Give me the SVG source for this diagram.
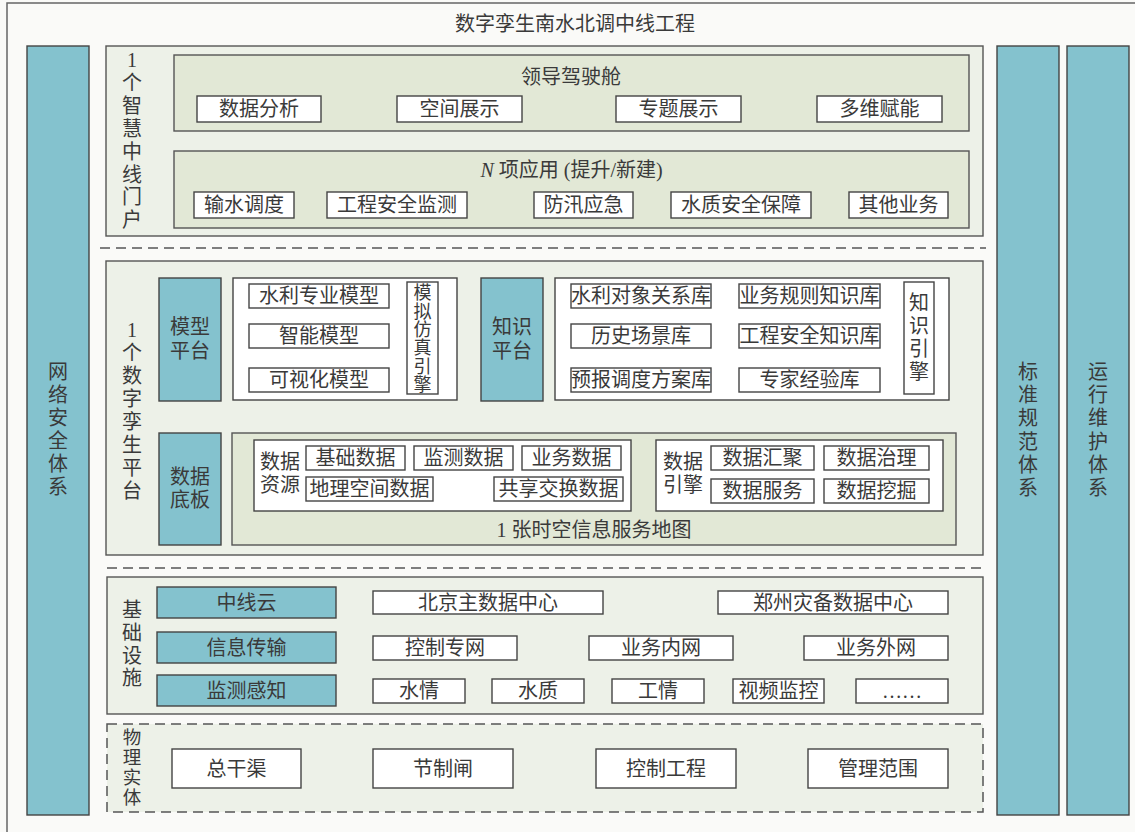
<svg xmlns="http://www.w3.org/2000/svg" width="1135" height="832" viewBox="0 0 1135 832">
<style>
text{font-family:"Liberation Serif","Noto Sans CJK SC",serif;font-size:20px;fill:#3a3a3a;text-anchor:middle;dominant-baseline:central}
.sec{fill:#edf1e8;stroke:#555;stroke-width:1.4}
.sec2{fill:#e2e8d6;stroke:#555;stroke-width:1.4}
.wb{fill:#fff;stroke:#444;stroke-width:1.4}
.bl{fill:#84c2ce;stroke:#444;stroke-width:1.4}
.dash{stroke:#555;stroke-width:1.5;stroke-dasharray:10 6;fill:none}
.sm{font-size:18px}
.ph{font-size:18.5px}
</style>
<rect width="1135" height="832" fill="#fafaf8"/>
<path d="M7,832 V3 H1135" fill="none" stroke="#666" stroke-width="1.5"/>
<text x="575" y="24">数字孪生南水北调中线工程</text>

<g id="side-network"><rect class="bl" x="27" y="46" width="62" height="769"/>
<text x="58"><tspan x="58" y="372">网</tspan><tspan x="58" y="395">络</tspan><tspan x="58" y="418">安</tspan><tspan x="58" y="441">全</tspan><tspan x="58" y="464">体</tspan><tspan x="58" y="487">系</tspan></text></g>
<g id="side-standard"><rect class="bl" x="997" y="46" width="62" height="769"/>
<text><tspan x="1028" y="372">标</tspan><tspan x="1028" y="395">准</tspan><tspan x="1028" y="418">规</tspan><tspan x="1028" y="442">范</tspan><tspan x="1028" y="465">体</tspan><tspan x="1028" y="488">系</tspan></text></g>
<g id="side-ops"><rect class="bl" x="1067" y="46" width="62" height="769"/>
<text><tspan x="1098" y="372">运</tspan><tspan x="1098" y="395">行</tspan><tspan x="1098" y="418">维</tspan><tspan x="1098" y="442">护</tspan><tspan x="1098" y="465">体</tspan><tspan x="1098" y="488">系</tspan></text></g>

<g id="connectors">
<line class="dash" x1="173" y1="142" x2="965" y2="142"/>
<line class="dash" x1="100" y1="248" x2="986" y2="248"/>
<line class="dash" x1="107" y1="568" x2="984" y2="568"/>
</g>

<g id="portal">
<rect class="sec" x="106" y="46" width="877" height="190"/>
<text><tspan x="132" y="60">1</tspan><tspan x="132" y="83">个</tspan><tspan x="132" y="106">智</tspan><tspan x="132" y="129">慧</tspan><tspan x="132" y="152">中</tspan><tspan x="132" y="175">线</tspan><tspan x="132" y="197">门</tspan><tspan x="132" y="220">户</tspan></text>
</g>
<g id="cockpit">
<rect class="sec2" x="174" y="55" width="795" height="76"/>
<text x="571" y="77">领导驾驶舱</text>
<rect class="wb" x="197" y="96" width="124" height="26"/><text x="259" y="109">数据分析</text>
<rect class="wb" x="397" y="96" width="125" height="26"/><text x="459.5" y="109">空间展示</text>
<rect class="wb" x="616" y="96" width="125" height="26"/><text x="678.5" y="109">专题展示</text>
<rect class="wb" x="817" y="96" width="125" height="26"/><text x="879.5" y="109">多维赋能</text>
</g>
<g id="apps">
<rect class="sec2" x="174" y="151" width="795" height="77"/>
<text x="571.5" y="170"><tspan font-style="italic">N</tspan> 项应用 (提升/新建)</text>
<rect class="wb" x="194" y="192" width="100" height="26"/><text x="244" y="205">输水调度</text>
<rect class="wb" x="327" y="192" width="140" height="26"/><text x="397" y="205">工程安全监测</text>
<rect class="wb" x="534" y="192" width="99" height="26"/><text x="583.5" y="205">防汛应急</text>
<rect class="wb" x="671" y="192" width="140" height="26"/><text x="741" y="205">水质安全保障</text>
<rect class="wb" x="849" y="192" width="99" height="26"/><text x="898.5" y="205">其他业务</text>
</g>

<g id="twin">
<rect class="sec" x="106" y="261" width="877" height="294"/>
<text><tspan x="132" y="330">1</tspan><tspan x="132" y="353">个</tspan><tspan x="132" y="376">数</tspan><tspan x="132" y="399">字</tspan><tspan x="132" y="422">孪</tspan><tspan x="132" y="445">生</tspan><tspan x="132" y="468">平</tspan><tspan x="132" y="491">台</tspan></text>
</g>
<g id="model-platform">
<rect class="bl" x="159" y="278" width="62" height="123"/>
<text><tspan x="190" y="327">模型</tspan><tspan x="190" y="351">平台</tspan></text>
<rect class="wb" x="233" y="278" width="224" height="122"/>
<rect class="wb" x="249" y="284" width="140" height="24"/><text x="319" y="296">水利专业模型</text>
<rect class="wb" x="249" y="324" width="140" height="24"/><text x="319" y="336">智能模型</text>
<rect class="wb" x="249" y="368" width="140" height="24"/><text x="319" y="380">可视化模型</text>
<rect class="wb" x="407" y="282" width="31" height="112"/>
<text class="sm"><tspan x="422.5" y="293">模</tspan><tspan x="422.5" y="311.5">拟</tspan><tspan x="422.5" y="330">仿</tspan><tspan x="422.5" y="348">真</tspan><tspan x="422.5" y="366.5">引</tspan><tspan x="422.5" y="385">擎</tspan></text>
</g>
<g id="knowledge-platform">
<rect class="bl" x="481" y="278" width="62" height="123"/>
<text><tspan x="512" y="327">知识</tspan><tspan x="512" y="351">平台</tspan></text>
<rect class="wb" x="555" y="278" width="394" height="122"/>
<rect class="wb" x="571" y="284" width="140" height="24"/><text x="641" y="296">水利对象关系库</text>
<rect class="wb" x="739" y="284" width="141" height="24"/><text x="809.5" y="296">业务规则知识库</text>
<rect class="wb" x="571" y="324" width="140" height="24"/><text x="641" y="336">历史场景库</text>
<rect class="wb" x="739" y="324" width="141" height="24"/><text x="809.5" y="336">工程安全知识库</text>
<rect class="wb" x="571" y="368" width="140" height="24"/><text x="641" y="380">预报调度方案库</text>
<rect class="wb" x="739" y="368" width="141" height="24"/><text x="809.5" y="380">专家经验库</text>
<rect class="wb" x="904" y="282" width="30" height="112"/>
<text><tspan x="919" y="303">知</tspan><tspan x="919" y="326">识</tspan><tspan x="919" y="349">引</tspan><tspan x="919" y="372">擎</tspan></text>
</g>
<g id="data-board">
<rect class="bl" x="159" y="433" width="62" height="112"/>
<text><tspan x="190" y="477">数据</tspan><tspan x="190" y="500">底板</tspan></text>
<rect class="sec2" x="232" y="433" width="724" height="112"/>
<text x="594" y="530">1 张时空信息服务地图</text>
</g>
<g id="data-resources">
<rect class="wb" x="254" y="440" width="377" height="71"/>
<text><tspan x="280" y="462">数据</tspan><tspan x="280" y="485">资源</tspan></text>
<rect class="wb" x="306" y="446" width="99" height="24"/><text x="355.5" y="458">基础数据</text>
<rect class="wb" x="414" y="446" width="99" height="24"/><text x="463.5" y="458">监测数据</text>
<rect class="wb" x="522" y="446" width="99" height="24"/><text x="571.5" y="458">业务数据</text>
<rect class="wb" x="306" y="477" width="127" height="24"/><text x="369.5" y="489">地理空间数据</text>
<rect class="wb" x="494" y="477" width="129" height="24"/><text x="558.5" y="489">共享交换数据</text>
</g>
<g id="data-engine">
<rect class="wb" x="656" y="440" width="287" height="71"/>
<text><tspan x="683" y="462">数据</tspan><tspan x="683" y="485">引擎</tspan></text>
<rect class="wb" x="711" y="446" width="103" height="24"/><text x="762.5" y="458">数据汇聚</text>
<rect class="wb" x="824" y="446" width="105" height="24"/><text x="876.5" y="458">数据治理</text>
<rect class="wb" x="711" y="479" width="103" height="24"/><text x="762.5" y="491">数据服务</text>
<rect class="wb" x="824" y="479" width="105" height="24"/><text x="876.5" y="491">数据挖掘</text>
</g>

<g id="infrastructure">
<rect class="sec" x="107" y="577" width="876" height="137"/>
<text><tspan x="132" y="610">基</tspan><tspan x="132" y="633">础</tspan><tspan x="132" y="656">设</tspan><tspan x="132" y="678">施</tspan></text>
<rect class="bl" x="157" y="587" width="179" height="31"/><text x="246.5" y="603">中线云</text>
<rect class="bl" x="157" y="632" width="179" height="31"/><text x="246.5" y="648">信息传输</text>
<rect class="bl" x="157" y="675" width="179" height="31"/><text x="246.5" y="691">监测感知</text>
<rect class="wb" x="373" y="591" width="230" height="23"/><text x="488" y="603">北京主数据中心</text>
<rect class="wb" x="718" y="591" width="230" height="23"/><text x="833" y="603">郑州灾备数据中心</text>
<rect class="wb" x="373" y="636" width="144" height="24"/><text x="445" y="648">控制专网</text>
<rect class="wb" x="589" y="636" width="144" height="24"/><text x="661" y="648">业务内网</text>
<rect class="wb" x="804" y="636" width="144" height="24"/><text x="876" y="648">业务外网</text>
<rect class="wb" x="373" y="679" width="92" height="24"/><text x="419" y="691">水情</text>
<rect class="wb" x="492" y="679" width="92" height="24"/><text x="538" y="691">水质</text>
<rect class="wb" x="612" y="679" width="92" height="24"/><text x="658" y="691">工情</text>
<rect class="wb" x="733" y="679" width="91" height="24"/><text x="778.5" y="691">视频监控</text>
<rect class="wb" x="856" y="679" width="92" height="24"/><text x="902" y="691">……</text>
</g>

<g id="physical">
<rect x="107" y="724" width="876" height="88" fill="#edf1e8" stroke="#555" stroke-width="1.5" stroke-dasharray="10 6"/>
<text class="ph"><tspan x="132" y="738">物</tspan><tspan x="132" y="758">理</tspan><tspan x="132" y="778">实</tspan><tspan x="132" y="798">体</tspan></text>
<rect class="wb" x="172" y="749" width="129" height="39"/><text x="236.5" y="768.5">总干渠</text>
<rect class="wb" x="373" y="749" width="140" height="39"/><text x="443" y="768.5">节制闸</text>
<rect class="wb" x="596" y="749" width="140" height="39"/><text x="666" y="768.5">控制工程</text>
<rect class="wb" x="808" y="749" width="140" height="39"/><text x="878" y="768.5">管理范围</text>
</g>
</svg>
